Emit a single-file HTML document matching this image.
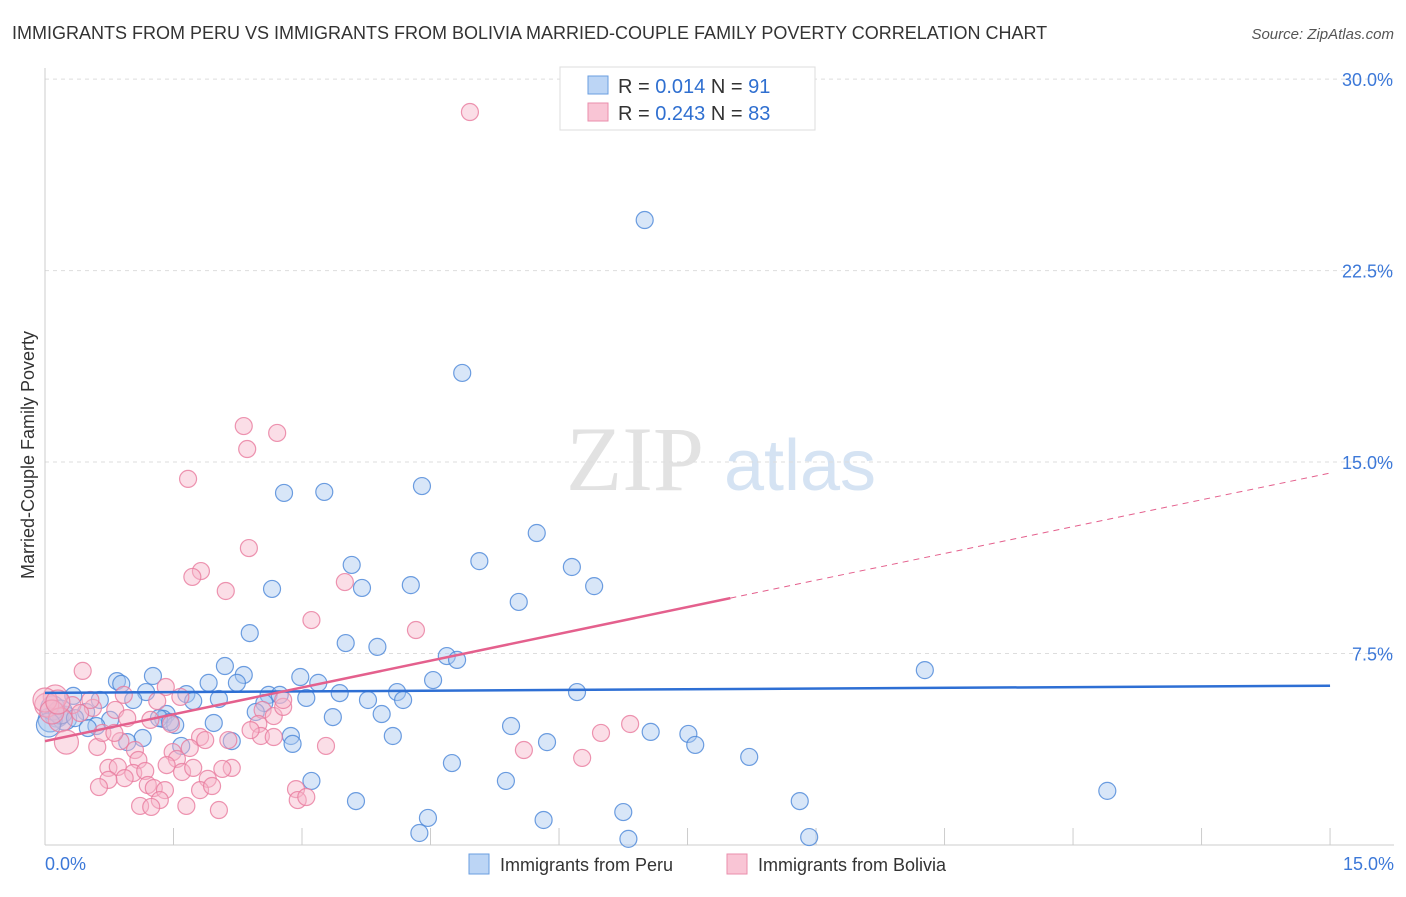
<!DOCTYPE html>
<html><head><meta charset="utf-8"><style>
body{margin:0;background:#fff;font-family:"Liberation Sans",sans-serif;}
</style></head><body>
<svg width="1406" height="892" xmlns="http://www.w3.org/2000/svg" font-family="Liberation Sans, sans-serif">
<text x="12" y="39" font-size="18" fill="#333">IMMIGRANTS FROM PERU VS IMMIGRANTS FROM BOLIVIA MARRIED-COUPLE FAMILY POVERTY CORRELATION CHART</text>
<text x="1394" y="39" font-size="15" fill="#555" text-anchor="end" font-style="italic">Source: ZipAtlas.com</text>
<g><text x="635" y="490" font-size="92" fill="#e2e2e2" font-family="Liberation Serif, serif" text-anchor="middle">ZIP</text><text x="800" y="490" font-size="72" fill="#d5e3f3" text-anchor="middle">atlas</text></g>
<g id="grid"></g><g id="axes"></g><g id="pts"></g><g id="trend"></g>
<text transform="translate(34,455) rotate(-90)" font-size="18" fill="#333" text-anchor="middle">Married-Couple Family Poverty</text>
<g>
<rect x="560" y="67" width="255" height="63" fill="#fff" stroke="#ddd"/>
<rect x="588" y="76" width="20" height="18" fill="#bcd5f5" stroke="#6a9ee0"/>
<rect x="588" y="103" width="20" height="18" fill="#f9c5d5" stroke="#ea8eac"/>
<text x="618" y="93" font-size="20" fill="#333">R = <tspan fill="#2f6fd0">0.014</tspan>   N = <tspan fill="#2f6fd0">91</tspan></text>
<text x="618" y="120" font-size="20" fill="#333">R = <tspan fill="#2f6fd0">0.243</tspan>   N = <tspan fill="#2f6fd0">83</tspan></text>
</g>
<g>
<rect x="469" y="854" width="20" height="20" fill="#bcd5f5" stroke="#6a9ee0"/>
<text x="500" y="871" font-size="18" fill="#333">Immigrants from Peru</text>
<rect x="727" y="854" width="20" height="20" fill="#f9c5d5" stroke="#ea8eac"/>
<text x="758" y="871" font-size="18" fill="#333">Immigrants from Bolivia</text>
</g>
</svg>
<script>
const yTicks=[7.5,15,22.5,30];
const yTickLabels=["7.5%","15.0%","22.5%","30.0%"];
const xTicks=[0,1.5,3,4.5,6,7.5,9,10.5,12,13.5,15];
const peruX=[7.00,4.87,2.79,3.26,4.40,5.74,5.07,3.58,6.15,2.65,3.70,4.27,6.41,5.53,2.39,3.51,3.88,4.69,4.81,10.27,2.10,2.32,1.26,0.84,0.89,2.98,3.19,1.91,2.24,4.53,6.21,4.11,1.18,1.65,3.44,3.77,4.18,2.61,2.74,2.56,1.73,2.03,3.05,1.03,0.64,0.33,2.46,3.36,3.93,1.42,1.38,1.33,0.76,0.48,0.14,0.23,0.06,1.97,1.52,5.44,0.60,7.07,7.51,2.87,2.89,4.06,2.18,5.86,1.59,1.14,0.96,7.59,8.22,4.75,3.11,5.38,3.63,8.81,12.40,4.47,6.75,5.82,4.37,6.81,8.92,0.09,0.18,0.35,0.04,0.50,1.46];
const peruY=[24.48,18.49,13.79,13.83,14.06,12.22,11.12,10.97,10.89,10.03,10.07,10.18,10.14,9.52,8.30,7.91,7.76,7.40,7.25,6.85,7.01,6.66,6.62,6.42,6.31,6.58,6.35,6.35,6.35,6.46,5.99,5.99,5.99,5.91,5.95,5.68,5.68,5.88,5.88,5.56,5.64,5.72,5.76,5.68,5.68,5.84,5.21,5.01,5.13,5.13,4.94,4.97,4.90,5.21,5.09,4.97,4.90,4.78,4.70,4.66,4.66,4.43,4.35,4.27,3.96,4.27,4.07,4.03,3.88,4.19,4.03,3.92,3.45,3.21,2.51,2.51,1.72,1.72,2.12,1.06,1.29,0.98,0.47,0.24,0.31,5.37,5.21,4.97,4.70,4.58,4.82];
const bolX=[4.96,2.32,2.71,2.36,1.67,2.38,1.82,1.72,2.11,3.11,3.50,4.33,0.44,0.92,1.41,1.58,1.31,0.56,0.32,0.41,0.12,0.02,0.18,0.82,2.54,2.67,0.96,1.23,1.47,2.49,2.52,2.67,2.14,2.78,6.83,6.49,5.59,6.27,3.28,1.81,1.87,0.25,0.61,0.88,1.05,1.09,1.49,1.54,1.69,0.74,0.85,1.03,1.17,1.20,1.60,1.73,2.18,2.07,1.90,0.93,0.74,0.63,1.27,1.40,1.81,1.95,2.93,2.95,3.05,1.34,1.11,1.24,1.65,2.03,0.00,0.08,0.15,0.53,0.67,1.42,0.81,2.40,2.78];
const bolY=[28.71,16.41,16.14,15.51,14.34,11.63,10.73,10.50,9.95,8.81,10.30,8.42,6.82,5.88,6.19,5.80,5.64,5.37,5.48,5.17,5.80,5.48,4.90,5.29,5.29,5.05,4.97,4.90,4.74,4.74,4.27,4.23,4.11,5.41,4.74,4.39,3.72,3.41,3.88,4.23,4.11,4.03,3.84,4.07,3.72,3.33,3.64,3.37,3.80,3.02,3.06,2.82,2.90,2.35,2.86,3.02,3.02,2.98,2.59,2.62,2.55,2.27,2.23,2.15,2.15,2.31,2.19,1.76,1.88,1.76,1.53,1.49,1.53,1.37,5.68,5.21,5.60,5.68,4.39,3.13,4.39,4.50,5.68];
const peruTrend=[5.96,6.24];
const bolTrend=[4.07,0.70];
const bolSolidEnd=8.0;
const X=v=>45+v*85.67, Y=v=>845-v*25.53;
const NS="http://www.w3.org/2000/svg";
function mk(t,a,p){const e=document.createElementNS(NS,t);for(const k in a)e.setAttribute(k,a[k]);document.getElementById(p).appendChild(e);return e;}
yTicks.forEach((t,i)=>{
 const l=mk('line',{x1:45,x2:1394,y1:Y(t),y2:Y(t),stroke:'#ddd','stroke-dasharray':'4,4'},'grid');
 
 
 const tx=mk('text',{x:1393,y:Y(t)+7,'font-size':18,fill:'#3c78d8','text-anchor':'end'},'grid');tx.textContent=yTickLabels[i];
 
 
});
const ax=mk('line',{x1:45,x2:45,y1:68,y2:845,stroke:'#ccc'},'axes');


const bx=mk('line',{x1:45,x2:1394,y1:845,y2:845,stroke:'#ccc'},'axes');


xTicks.forEach(t=>{const l=mk('line',{x1:X(t),x2:X(t),y1:828,y2:845,stroke:'#ccc'},'axes');
 
 });
const xl0=mk('text',{x:45,y:870,'font-size':18,fill:'#3c78d8'},'axes');xl0.textContent='0.0%';


const xl1=mk('text',{x:1394,y:870,'font-size':18,fill:'#3c78d8','text-anchor':'end'},'axes');xl1.textContent='15.0%';


function pts(xs,ys,fill,stroke,name){xs.forEach((x,i)=>{const big=x<0.3;
 const c=mk('circle',{cx:X(x),cy:Y(ys[i]),r:big?12:8.5,fill:fill,'fill-opacity':0.45,stroke:stroke,'stroke-width':1.2,'stroke-opacity':0.8},'pts');
 
 });}
pts(peruX,peruY,'#a9c8f0','#4a86d8','peru-point');
pts(bolX,bolY,'#f6b6ca','#e87a9e','bolivia-point');
const tb=mk('line',{x1:X(0),y1:Y(peruTrend[0]),x2:X(15),y2:Y(peruTrend[1]),stroke:'#2e6fd4','stroke-width':2.5},'trend');


const tp=mk('line',{x1:X(0),y1:Y(bolTrend[0]),x2:X(bolSolidEnd),y2:Y(bolTrend[0]+bolTrend[1]*bolSolidEnd),stroke:'#e4608d','stroke-width':2.5},'trend');


const td=mk('line',{x1:X(bolSolidEnd),y1:Y(bolTrend[0]+bolTrend[1]*bolSolidEnd),x2:X(15),y2:Y(bolTrend[0]+bolTrend[1]*15),stroke:'#e4608d','stroke-width':1,'stroke-dasharray':'6,5'},'trend');


</script>
</body></html>
